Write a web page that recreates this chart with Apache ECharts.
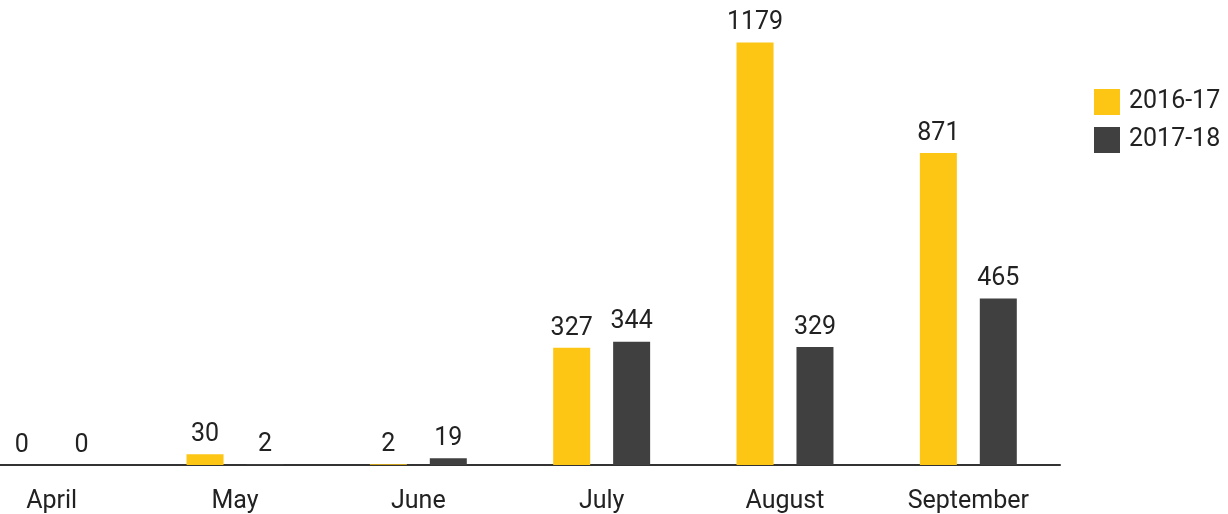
<!DOCTYPE html>
<html>
<head>
<meta charset="utf-8">
<script src="https://cdn.jsdelivr.net/npm/echarts@6/dist/echarts.min.js"></script>
<style>
  html, body { margin: 0; padding: 0; background: #fff; }
  #chart { width: 1228px; height: 514px; }
</style>
</head>
<body>
<div id="chart"></div>
<script>
// chart data
var months = ['April', 'May', 'June', 'July', 'August', 'September']
var seriesNames = ['2016-17', '2017-18']
var values1617 = [0, 30, 2, 327, 1179, 871]
var values1718 = [0, 2, 19, 344, 329, 465]

var chart = echarts.init(document.getElementById('chart'))
var labelStyle = {
  show: true,
  position: 'top',
  distance: 7,
  fontFamily: 'Roboto',
  fontSize: 25,
  color: '#222'
}

chart.setOption({
  animation: false,
  textStyle: { fontFamily: 'Roboto' },
  legend: {
    data: seriesNames,
    orient: 'vertical',
    left: 1089,
    top: 84,
    itemWidth: 26,
    itemHeight: 26,
    itemGap: 12,
    icon: 'rect',
    textStyle: { fontSize: 25, color: '#222', padding: [0, 0, 0, 4] }
  },
  grid: {
    left: -40,
    right: 168,
    top: 35,
    bottom: 49,
    outerBoundsMode: 'none'
  },
  xAxis: {
    type: 'category',
    data: months,
    axisTick: { show: false },
    axisLine: { lineStyle: { color: '#333', width: 2 } },
    axisLabel: { fontSize: 25, color: '#222', margin: 24 }
  },
  yAxis: {
    type: 'value',
    min: 0,
    max: 1200,
    show: false,
    splitLine: { show: false }
  },
  series: [
    {
      name: seriesNames[0],
      type: 'bar',
      data: values1617,
      barWidth: 37,
      barGap: '62%',
      itemStyle: { color: '#FDC514' },
      label: labelStyle
    },
    {
      name: seriesNames[1],
      type: 'bar',
      data: values1718,
      barWidth: 37,
      itemStyle: { color: '#404040' },
      label: labelStyle
    }
  ]
})
</script>
</body>
</html>
